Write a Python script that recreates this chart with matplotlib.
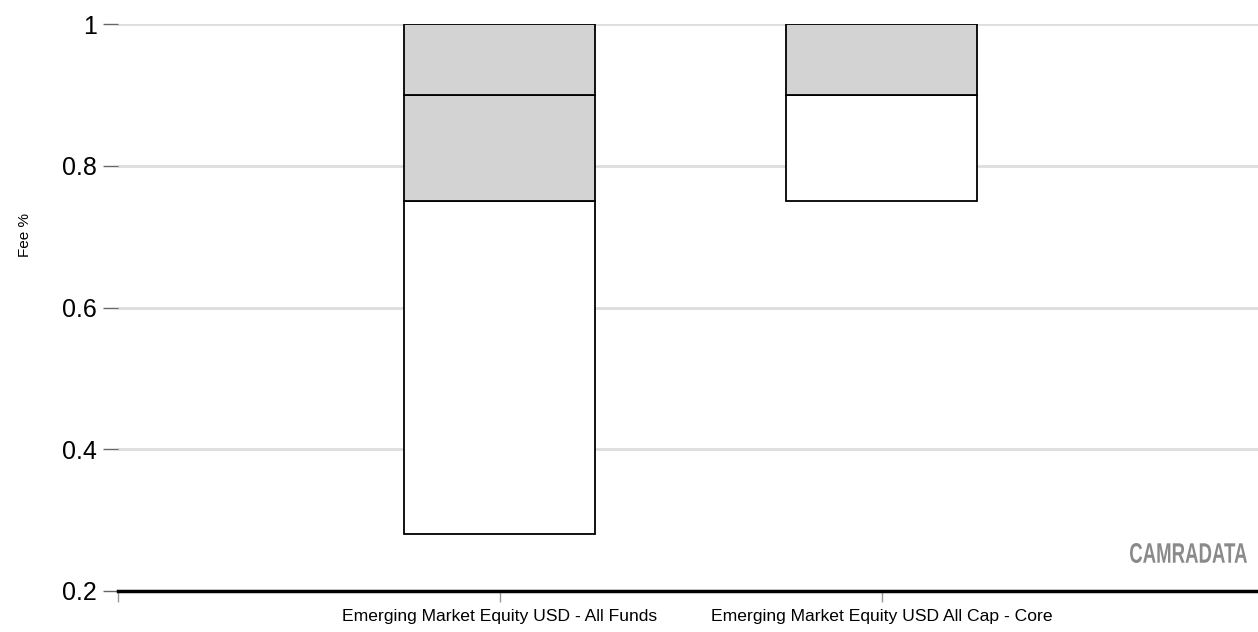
import matplotlib
matplotlib.use("Agg")
import matplotlib.pyplot as plt
import numpy as np
from matplotlib.textpath import TextPath
from matplotlib.patches import PathPatch
from matplotlib.font_manager import FontProperties
from matplotlib.transforms import Affine2D, IdentityTransform

plt.rcParams['font.family'] = ['Liberation Sans', 'DejaVu Sans']

categories = ["Emerging Market Equity USD - All Funds",
              "Emerging Market Equity USD All Cap - Core"]
# segment boundaries (Fee %)
minimum = [0.28, 0.75]
lower_q = [0.75, 0.90]
median = [0.90, 0.90]
maximum = [1.00, 1.00]
seg_colors = ["#ffffff", "#d3d3d3", "#d3d3d3"]
yticks = [0.2, 0.4, 0.6, 0.8, 1.0]
ytick_labels = ["0.2", "0.4", "0.6", "0.8", "1"]

W, H = 1258, 632
fig = plt.figure(figsize=(W / 100, H / 100), dpi=100)
ax = fig.add_axes([118 / W, (H - 591) / H, 1 - 118 / W, (591 - 24) / H])

x = np.arange(1, len(categories) + 1)
bounds = [minimum, lower_q, median, maximum]
for i in range(3):
    lo = np.array(bounds[i])
    hi = np.array(bounds[i + 1])
    ax.bar(x, hi - lo, bottom=lo, width=0.5, color=seg_colors[i],
           edgecolor="#000000", linewidth=1.3, zorder=3)

ax.set_ylim(0.2, 1.0)
ax.set_xlim(0, 2.986)
ax.set_yticks(yticks)
ax.set_yticklabels(ytick_labels, fontsize=18)
ax.yaxis.grid(True, color="#dddddd", linewidth=2, zorder=0)
ax.tick_params(axis="y", length=11, width=1, color="#666666", pad=4)

ax.set_xticks([0] + list(x))
ax.set_xticklabels([""] + categories, fontsize=12.6)
ax.tick_params(axis="x", length=8, width=1, color="#999999", pad=5)

for s in ["top", "right", "left"]:
    ax.spines[s].set_visible(False)
ax.spines["bottom"].set_linewidth(2.5)
ax.spines["bottom"].set_color("#000000")
ax.spines["bottom"].set_zorder(4)

fig.text(25 / W, 1 - 235 / H, "Fee %", rotation=90, fontsize=11,
         ha="center", va="center")

# condensed watermark: fit text path into a pixel box
fp = FontProperties(family="Liberation Sans", weight="bold")
tp = TextPath((0, 0), "CAMRADATA", size=1, prop=fp)
ext = tp.get_extents()
x0, x1, y0, y1 = 1130, 1247, H - 563, H - 543
sx = (x1 - x0) / ext.width
sy = (y1 - y0) / ext.height
tr = Affine2D().translate(-ext.x0, -ext.y0).scale(sx, sy).translate(x0, y0)
patch = PathPatch(tr.transform_path(tp), facecolor="#8a8a8a", edgecolor="none",
                  transform=IdentityTransform())
fig.patches.append(patch)

fig.savefig("out.png", dpi=100)
